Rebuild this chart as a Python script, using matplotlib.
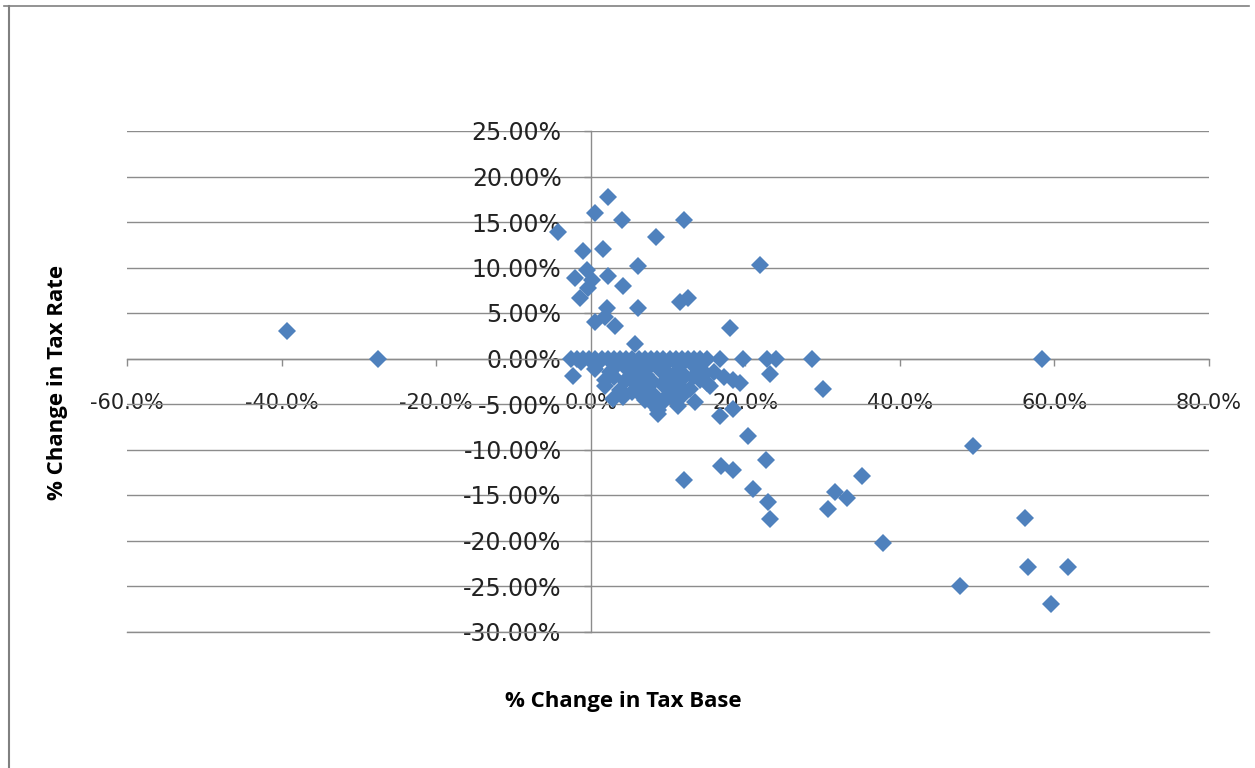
import matplotlib
matplotlib.use("Agg")
import matplotlib.pyplot as plt
from matplotlib.lines import Line2D
from matplotlib.ticker import FuncFormatter, MultipleLocator

# % change in tax base (x) and % change in tax rate (y), in percent
base_up = [-39.3, 2.3, 0.6, 4.0, 12.1, -4.2, 8.4, -1.0, 1.6, 6.1, 21.9, -2.0, -0.5,
           0.2, -0.3, 2.3, 4.2, -1.4, 6.1, 11.5, 12.6, 2.1, 0.6, 3.1, 1.9, 18.0, 5.7]
rate_up = [3.0, 17.7, 16.0, 15.2, 15.2, 13.9, 13.3, 11.8, 12.0, 10.2, 10.3, 8.9, 9.7,
           8.6, 7.8, 9.1, 8.0, 6.6, 5.6, 6.2, 6.7, 5.5, 4.0, 3.6, 4.6, 3.4, 1.6]

base_flat = [-27.5, -2.6, -1.8, -1.0, -0.2, 0.6, 1.4, 2.2, 3.0, 3.8, 4.6, 5.4, 6.2, 7.0,
             7.8, 8.6, 9.4, 10.2, 11.0, 11.8, 12.6, 13.4, 14.2, 15.0, 16.7, 19.7, 22.8,
             24.0, 28.6, 58.4]
rate_flat = [0.0] * len(base_flat)

base_down = [-2.3, 0.6, 1.9, 1.9, 2.9, 3.8, 4.8, 5.4, 6.4, 7.0, 7.4, 7.7, 8.3, 8.7, 8.7,
             9.0, 9.6, 10.2, 10.5, 11.3, 11.3, 11.5, 12.2, 12.9, 13.5, 14.1, 14.1, 15.0,
             15.4, 18.4, 19.3, 16.7, 18.4, 20.4, 23.2, 30.0, 16.9, 18.4, 22.7, 12.1,
             21.0, 23.0, 23.2, 31.6, 30.7, 33.2, 35.1, 49.4, 37.8, 56.2, 47.8, 56.6,
             61.8, 59.6, 3.5, 6.0, 9.8, 13.0, 4.5, 10.0, 6.8, 5.0, 8.0, 11.0,
             1.0, 2.5, 3.0, 4.2, 5.8, 6.5, 7.2, 8.0, 9.2, 10.8, 12.0, 13.2, 14.8,
             16.0, 17.2, -1.2]
rate_down = [-1.9, -1.1, -2.4, -3.0, -4.4, -3.5, -1.3, -3.7, -2.2, -4.6, -3.0, -0.8,
             -4.1, -5.7, -6.1, -1.3, -4.6, -1.9, -3.5, -5.2, -2.8, -0.8, -1.9, -3.3,
             -4.8, -2.4, -1.1, -2.7, -3.0, -2.4, -2.7, -6.3, -5.5, -8.5, -1.65, -3.4,
             -11.8, -12.3, -11.1, -13.3, -14.3, -15.8, -17.6, -14.7, -16.5, -15.3,
             -12.9, -9.6, -20.3, -17.5, -25.0, -22.9, -22.9, -27.0, -0.6, -1.0, -0.6,
             -0.5, -2.5, -4.0, -3.2, -2.0, -2.6, -1.5,
             -0.5, -1.5, -2.0, -4.2, -2.8, -4.0, -1.8, -5.0, -2.8, -4.4, -4.0, -2.0,
             -1.6, -1.5, -2.0, -0.4]

tax_base = base_up + base_flat + base_down
tax_rate = rate_up + rate_flat + rate_down

blue = '#4f81bd'
grid_grey = '#8c8c8c'

fig = plt.figure(figsize=(12.55, 7.68), dpi=100)
ax = fig.add_axes([127 / 1255, 1 - 631.5 / 768, (1209 - 127) / 1255, 500.5 / 768])

ax.plot([b / 100 for b in tax_base], [r / 100 for r in tax_rate], linestyle='none',
        marker='D', markersize=9.6, color=blue, markeredgewidth=0, zorder=3)

ax.set_xlim(-0.6, 0.8)
ax.set_ylim(-0.30, 0.25)
ax.xaxis.set_major_locator(MultipleLocator(0.2))
ax.yaxis.set_major_locator(MultipleLocator(0.05))
ax.xaxis.set_major_formatter(FuncFormatter(lambda v, p: '{:.1%}'.format(v)))
ax.yaxis.set_major_formatter(FuncFormatter(lambda v, p: '{:.2%}'.format(v)))

ax.grid(axis='y', color=grid_grey, linewidth=1.0, zorder=1)
ax.set_axisbelow(True)
for gl in ax.get_ygridlines():
    gl.set_clip_on(False)
# bottom gridline sits on the axes edge, draw it explicitly
ax.axhline(-0.30, color=grid_grey, linewidth=1.0, zorder=1, clip_on=False)

for side in ['top', 'right']:
    ax.spines[side].set_visible(False)
ax.spines['left'].set_position(('data', 0))
ax.spines['bottom'].set_position(('data', 0))
for side in ['left', 'bottom']:
    ax.spines[side].set_color(grid_grey)
    ax.spines[side].set_linewidth(1.0)

ax.tick_params(axis='x', direction='out', length=5, width=1, color=grid_grey,
               pad=20, labelsize=15, labelcolor='#222222')
ax.tick_params(axis='y', direction='out', length=5, width=1, color=grid_grey,
               pad=16, labelsize=17, labelcolor='#222222')

label_font = ['Liberation Sans Narrow', 'Open Sans', 'DejaVu Sans']
fig.text(623 / 1255, 1 - 701 / 768, '% Change in Tax Base', ha='center', va='center',
         fontsize=16, fontweight='bold', family=label_font)
fig.text(58 / 1255, 1 - 382 / 768, '% Change in Tax Rate', ha='center', va='center',
         rotation=90, fontsize=16, fontweight='bold', family=label_font)

# chart frame
fig.add_artist(Line2D([8.5 / 1255, 8.5 / 1255], [0, 1 - 6 / 768], color='#808080', lw=1.5))
fig.add_artist(Line2D([4 / 1255, 1249 / 1255], [1 - 6 / 768, 1 - 6 / 768],
                      color='#808080', lw=1.2))

fig.savefig('out.png', dpi=100, facecolor='white')
